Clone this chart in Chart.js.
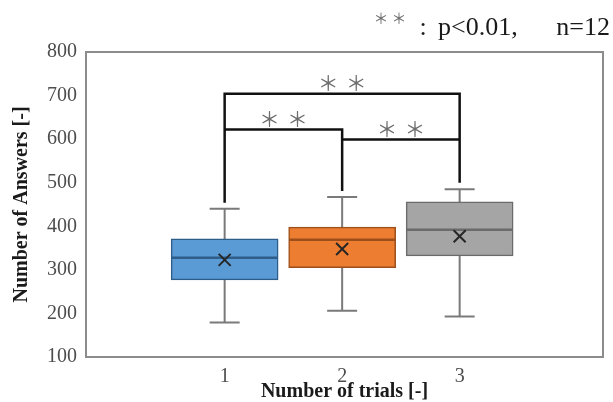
<!doctype html>
<html>

<head>
	<title>Number of Answers box plot</title>
	<script src="https://cdn.jsdelivr.net/npm/chart.js@4/dist/chart.umd.min.js"></script>
	<style>
	html, body {
		margin: 0;
		padding: 0;
		background: #fff;
	}
	#container {
		width: 613px;
		height: 402px;
	}
	</style>
</head>

<body>
	<div id="container">
		<canvas id="canvas"></canvas>
	</div>
	<script>
		// categories and box plot values
		var trials = ['1', '2', '3'];
		var trialPos = [1, 2, 3];
		var q1 = [277, 305, 332];
		var q3 = [371, 398, 456];
		var medians = [328, 369, 392];
		var means = [323, 348, 377];
		var whiskerLow = [179, 206, 193];
		var whiskerHigh = [440, 467, 485];
		var yTicks = [100, 200, 300, 400, 500, 600, 700, 800];

		// significance brackets
		var stemBase = [457, 484, 503];
		var stemTop = [704, 622, 704];
		var bracketFrom = [1, 1, 2];
		var bracketTo = [3, 2, 3];
		var bracketLevel = [704, 622, 599];
		var bracketMark = ['＊', '＊', '＊'];

		var fills = ['#5b9bd5', '#ed7d31', '#a5a5a5'];
		var edges = ['#2f5d8a', '#9c4f1a', '#6b6b6b'];
		var serif = "'Liberation Serif', 'Times New Roman', serif";

		var boxData = trialPos.map(function(x, i) {
			return {x: x, y: [q1[i], q3[i]]};
		});

		var boxPlugin = {
			id: 'boxparts',
			beforeDatasetsDraw: function(chart) {
				var ctx = chart.ctx;
				var xs = chart.scales.x, ys = chart.scales.y;
				var a = chart.chartArea;
				ctx.save();
				// plot frame
				ctx.strokeStyle = '#8c8c8c';
				ctx.lineWidth = 2;
				ctx.strokeRect(a.left, a.top, a.right - a.left, a.bottom - a.top);
				// whiskers
				ctx.strokeStyle = '#7a7a7a';
				ctx.lineWidth = 2;
				trialPos.forEach(function(x, i) {
					var px = xs.getPixelForValue(x);
					ctx.beginPath();
					ctx.moveTo(px, ys.getPixelForValue(q3[i]));
					ctx.lineTo(px, ys.getPixelForValue(whiskerHigh[i]));
					ctx.moveTo(px, ys.getPixelForValue(q1[i]));
					ctx.lineTo(px, ys.getPixelForValue(whiskerLow[i]));
					ctx.moveTo(px - 15, ys.getPixelForValue(whiskerHigh[i]));
					ctx.lineTo(px + 15, ys.getPixelForValue(whiskerHigh[i]));
					ctx.moveTo(px - 15, ys.getPixelForValue(whiskerLow[i]));
					ctx.lineTo(px + 15, ys.getPixelForValue(whiskerLow[i]));
					ctx.stroke();
				});
				ctx.restore();
			},
			afterDatasetsDraw: function(chart) {
				var ctx = chart.ctx;
				var xs = chart.scales.x, ys = chart.scales.y;
				var half = 53;
				ctx.save();
				trialPos.forEach(function(x, i) {
					var px = xs.getPixelForValue(x);
					// median
					ctx.strokeStyle = edges[i];
					ctx.lineWidth = 2.5;
					ctx.beginPath();
					ctx.moveTo(px - half, ys.getPixelForValue(medians[i]));
					ctx.lineTo(px + half, ys.getPixelForValue(medians[i]));
					ctx.stroke();
					// mean marker
					var py = ys.getPixelForValue(means[i]);
					ctx.strokeStyle = '#262626';
					ctx.lineWidth = 2;
					ctx.beginPath();
					ctx.moveTo(px - 6, py - 6);
					ctx.lineTo(px + 6, py + 6);
					ctx.moveTo(px + 6, py - 6);
					ctx.lineTo(px - 6, py + 6);
					ctx.stroke();
				});

				// brackets
				ctx.strokeStyle = '#111';
				ctx.lineWidth = 2.5;
				ctx.lineCap = 'square';
				ctx.beginPath();
				trialPos.forEach(function(x, i) {
					var px = xs.getPixelForValue(x);
					ctx.moveTo(px, ys.getPixelForValue(stemBase[i]));
					ctx.lineTo(px, ys.getPixelForValue(stemTop[i]));
				});
				bracketLevel.forEach(function(v, i) {
					var py = ys.getPixelForValue(v);
					ctx.moveTo(xs.getPixelForValue(bracketFrom[i]), py);
					ctx.lineTo(xs.getPixelForValue(bracketTo[i]), py);
				});
				ctx.stroke();

				ctx.fillStyle = '#6e6e6e';
				ctx.font = "21px 'Noto Sans CJK JP', sans-serif";
				ctx.textAlign = 'center';
				ctx.textBaseline = 'middle';
				bracketLevel.forEach(function(v, i) {
					var mid = (xs.getPixelForValue(bracketFrom[i]) + xs.getPixelForValue(bracketTo[i])) / 2;
					var py = ys.getPixelForValue(v) - 11;
					ctx.fillText(bracketMark[i], mid - 14, py);
					ctx.fillText(bracketMark[i], mid + 14, py);
				});
				ctx.restore();
			},
			afterDraw: function(chart) {
				var ctx = chart.ctx;
				ctx.save();
				ctx.fillStyle = '#6e6e6e';
				ctx.font = "15px 'Noto Sans CJK JP', sans-serif";
				ctx.textAlign = 'center';
				ctx.textBaseline = 'middle';
				ctx.fillText('＊', 381, 18);
				ctx.fillText('＊', 399, 18);
				ctx.fillStyle = '#1a1a1a';
				ctx.font = '26px ' + serif;
				ctx.textBaseline = 'alphabetic';
				ctx.fillText(':', 423, 35);
				ctx.textAlign = 'left';
				ctx.fillText('p<0.01,', 438, 35);
				ctx.textAlign = 'right';
				ctx.fillText('n=12', 610, 35);
				ctx.restore();
			}
		};

		window.onload = function() {
			var ctx = document.getElementById('canvas').getContext('2d');
			window.myBox = new Chart(ctx, {
				type: 'bar',
				data: {
					datasets: [{
						label: 'Number of Answers',
						data: boxData,
						backgroundColor: fills,
						borderColor: edges,
						borderWidth: 1.5,
						borderSkipped: false,
						barThickness: 107
					}]
				},
				options: {
					responsive: true,
					maintainAspectRatio: false,
					animation: false,
					layout: {
						padding: {top: 52, right: 10, left: 0, bottom: 0}
					},
					plugins: {
						legend: {display: false},
						tooltip: {enabled: false},
						title: {display: false}
					},
					scales: {
						x: {
							type: 'linear',
							offset: false,
							min: -0.18,
							max: 4.22,
							grid: {display: false, drawTicks: false, offset: false},
							border: {display: false},
							afterBuildTicks: function(scale) {
								scale.ticks = trialPos.map(function(v) { return {value: v}; });
							},
							afterFit: function(scale) {
								scale.height = 45;
							},
							ticks: {
								padding: 8,
								color: '#4d4d4d',
								font: {family: serif, size: 20},
								callback: function(value) {
									var i = trialPos.indexOf(value);
									return i >= 0 ? trials[i] : '';
								}
							},
							title: {
								display: true,
								text: 'Number of trials [-]',
								color: '#1a1a1a',
								font: {family: serif, size: 20, weight: 'bold', lineHeight: 1},
								padding: {top: 0, bottom: 0}
							}
						},
						y: {
							min: 100,
							max: 800,
							grid: {display: false, drawTicks: false},
							border: {display: false},
							afterBuildTicks: function(scale) {
								scale.ticks = yTicks.map(function(v) { return {value: v}; });
							},
							afterFit: function(scale) {
								scale.width = 86;
							},
							ticks: {
								padding: 9,
								color: '#4d4d4d',
								font: {family: serif, size: 20}
							},
							title: {
								display: true,
								text: 'Number of Answers [-]',
								color: '#1a1a1a',
								font: {family: serif, size: 20, weight: 'bold', lineHeight: 1},
								padding: {top: 12, bottom: 0}
							}
						}
					}
				},
				plugins: [boxPlugin]
			});
		};
	</script>
</body>
</html>
